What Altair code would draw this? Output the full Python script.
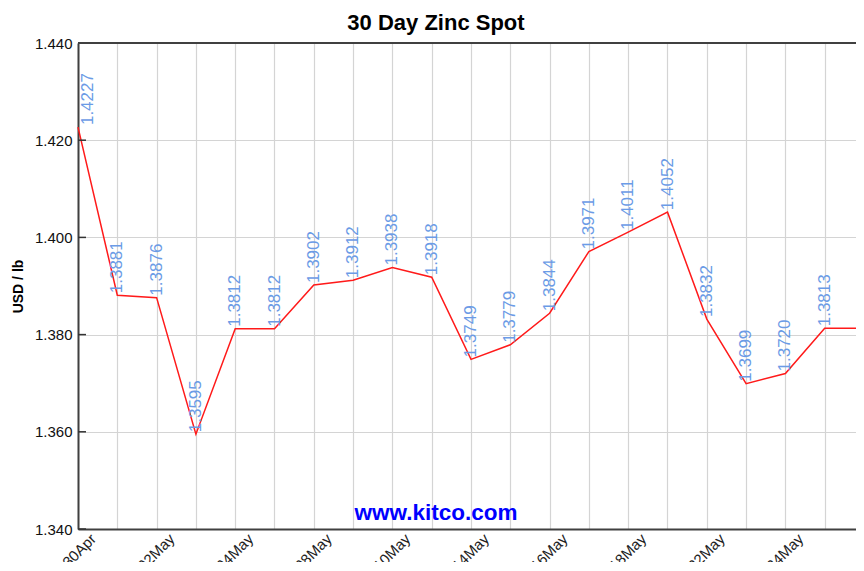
import json
import altair as alt
import pandas as pd

# ---- data ----
dates = ["30Apr", "01May", "02May", "03May", "04May", "07May", "08May",
         "09May", "10May", "11May", "14May", "15May", "16May", "17May",
         "18May", "21May", "22May", "23May", "24May", "25May", "28May"]
prices = [1.4227, 1.3881, 1.3876, 1.3595, 1.3812, 1.3812, 1.3902,
          1.3912, 1.3938, 1.3918, 1.3749, 1.3779, 1.3844, 1.3971,
          1.4011, 1.4052, 1.3832, 1.3699, 1.3720, 1.3813, 1.3813]
y_ticks = [1.340, 1.360, 1.380, 1.400, 1.420, 1.440]
title_text = "30 Day Zinc Spot"
y_title = "USD / lb"
watermark = "www.kitco.com"

FONT = "Liberation Sans, Arial, sans-serif"

df = pd.DataFrame({
    "idx": list(range(len(dates))),
    "date": dates,
    "price": prices,
    "label": [f"{p:.4f}" for p in prices],
})
tick_df = pd.DataFrame({"v": y_ticks})

# show every other date label, not the last one (cut off in the reference)
shown = [d if (i % 2 == 0 and i < len(dates) - 1) else "" for i, d in enumerate(dates)]
label_expr = json.dumps(shown) + "[datum.value]"

STEP = 39.3           # px between trading days in the reference
W, H = 778, 486       # plot area; the reference's plot runs past the right edge
x_max = W / STEP

x_enc = alt.X(
    "idx:Q",
    scale=alt.Scale(domain=[0, x_max], nice=False, zero=False),
    axis=alt.Axis(
        values=[i for i in range(len(dates)) if i <= x_max],
        labelExpr=label_expr,
        title=None,
        domain=True,
        domainColor="#404040",
        domainWidth=2,
        ticks=False,
        grid=True,
        gridColor="#d4d4d4",
        gridWidth=1.2,
        labelAngle=315,
        labelAlign="right",
        labelBaseline="top",
        labelPadding=2,
        labelOffset=10,
        labelFont=FONT,
        labelFontSize=15,
        labelColor="#222222",
        labelOverlap=False,
        labelBound=False,
        labelFlush=False,
    ),
)
y_scale = alt.Scale(domain=[1.34, 1.44], nice=False, zero=False)
y_enc = alt.Y(
    "price:Q",
    scale=y_scale,
    axis=alt.Axis(
        values=y_ticks,
        format=".3f",
        title=y_title,
        titleFont=FONT,
        titleFontSize=14,
        titleFontWeight="bold",
        titleColor="#000000",
        titleAngle=270,
        titleX=-60,
        titleY=H / 2,
        titleAlign="center",
        titleBaseline="middle",
        domain=True,
        domainColor="#404040",
        domainWidth=2,
        ticks=False,
        tickSize=0,
        labelPadding=6,
        labelFont=FONT,
        labelFontSize=15,
        labelColor="#111111",
        grid=True,
        gridColor="#d4d4d4",
        gridWidth=1.2,
    ),
)

base = alt.Chart(df)

line = base.mark_line(color="#ff1a1a", strokeWidth=1.5, clip=False).encode(x=x_enc, y=y_enc)

labels_first = base.transform_filter("datum.idx == 0").mark_text(
    angle=270, align="left", baseline="middle", dx=2, dy=10,
    font=FONT, fontSize=17, color="#6b9be6",
).encode(x="idx:Q", y="price:Q", text="label:N")

labels_rest = base.transform_filter("datum.idx > 0").mark_text(
    angle=270, align="left", baseline="middle", dx=2, dy=0,
    font=FONT, fontSize=17, color="#6b9be6",
).encode(x="idx:Q", y="price:Q", text="label:N")

yticks = alt.Chart(tick_df).mark_rule(
    color="#333333", strokeWidth=1.5,
).encode(x=alt.value(0), x2=alt.value(8), y=alt.Y("v:Q", scale=y_scale))

top_border = alt.Chart(tick_df).mark_rule(
    color="#404040", strokeWidth=2,
).encode(x=alt.value(0), x2=alt.value(W + 20), y=alt.value(0))

mark_wm = alt.Chart(pd.DataFrame({"t": [watermark]})).mark_text(
    font=FONT, fontSize=22.5, fontWeight="bold", color="#0000ff",
    align="center", baseline="alphabetic",
).encode(x=alt.value(436 - 78), y=alt.value(520 - 43), text="t:N")

chart = alt.layer(line, labels_rest, labels_first, yticks, top_border, mark_wm).properties(
    width=W,
    height=H,
    title=alt.TitleParams(
        title_text, font=FONT, fontSize=22, fontWeight="bold",
        color="#000000", anchor="middle", dx=-31, offset=1,
    ),
    autosize=alt.AutoSizeParams(type="none"),
    padding={"left": 70, "top": 35, "right": 0, "bottom": 33},
).configure_view(
    strokeWidth=0,
).configure(background="#ffffff")

chart.save("out.html", embed_options={"renderer": "svg", "actions": False})
